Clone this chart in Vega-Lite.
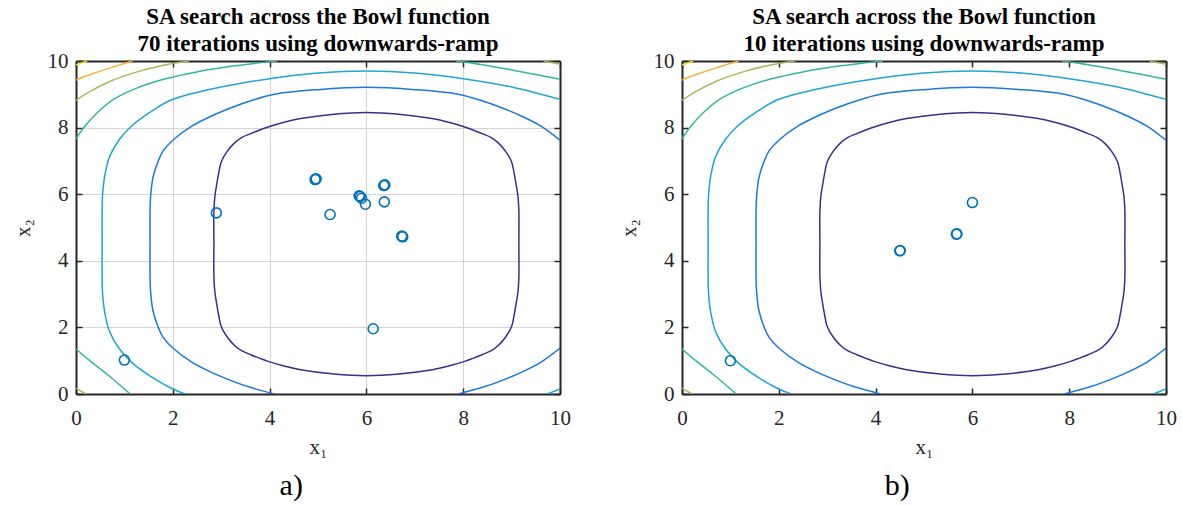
{
  "$schema": "https://vega.github.io/schema/vega-lite/v6.json",
  "background": "white",
  "padding": {"left": 12, "top": 6, "right": 5, "bottom": 0},
  "spacing": 47,
  "config": {
    "font": "Liberation Serif",
    "view": {"stroke": null},
    "title": {"font": "Liberation Serif", "color": "#000000"},
    "axis": {
      "labelFont": "Liberation Serif", "titleFont": "Liberation Serif",
      "labelColor": "#262626", "titleColor": "#262626",
      "domainColor": "#262626", "tickColor": "#262626",
      "domainWidth": 2, "tickWidth": 1.5, "tickSize": -6,
      "labelFontSize": 21, "titleFontSize": 21, "titleFontWeight": "normal",
      "gridColor": "#d4d4d4", "gridWidth": 1, "gridOpacity": 1,
      "labelFlush": false, "labelOverlap": false
    }
  },
  "datasets": {
    "contours": [
      {"seg":"L1","lvl":"c1","ord":0,"x1":2.85,"x2":4.5},
      {"seg":"L1","lvl":"c1","ord":1,"x1":2.85,"x2":5.5},
      {"seg":"L1","lvl":"c1","ord":2,"x1":2.87,"x2":5.95},
      {"seg":"L1","lvl":"c1","ord":3,"x1":2.91,"x2":6.32},
      {"seg":"L1","lvl":"c1","ord":4,"x1":2.95,"x2":6.65},
      {"seg":"L1","lvl":"c1","ord":5,"x1":3.0,"x2":6.97},
      {"seg":"L1","lvl":"c1","ord":6,"x1":3.12,"x2":7.28},
      {"seg":"L1","lvl":"c1","ord":7,"x1":3.26,"x2":7.52},
      {"seg":"L1","lvl":"c1","ord":8,"x1":3.42,"x2":7.7},
      {"seg":"L1","lvl":"c1","ord":9,"x1":3.61,"x2":7.82},
      {"seg":"L1","lvl":"c1","ord":10,"x1":3.8,"x2":7.93},
      {"seg":"L1","lvl":"c1","ord":11,"x1":3.97,"x2":8.02},
      {"seg":"L1","lvl":"c1","ord":12,"x1":4.3,"x2":8.16},
      {"seg":"L1","lvl":"c1","ord":13,"x1":4.64,"x2":8.27},
      {"seg":"L1","lvl":"c1","ord":14,"x1":5.33,"x2":8.4},
      {"seg":"L1","lvl":"c1","ord":15,"x1":6.0,"x2":8.45},
      {"seg":"L1","lvl":"c1","ord":16,"x1":6.67,"x2":8.4},
      {"seg":"L1","lvl":"c1","ord":17,"x1":7.36,"x2":8.27},
      {"seg":"L1","lvl":"c1","ord":18,"x1":7.7,"x2":8.16},
      {"seg":"L1","lvl":"c1","ord":19,"x1":8.03,"x2":8.02},
      {"seg":"L1","lvl":"c1","ord":20,"x1":8.2,"x2":7.93},
      {"seg":"L1","lvl":"c1","ord":21,"x1":8.39,"x2":7.82},
      {"seg":"L1","lvl":"c1","ord":22,"x1":8.58,"x2":7.7},
      {"seg":"L1","lvl":"c1","ord":23,"x1":8.74,"x2":7.52},
      {"seg":"L1","lvl":"c1","ord":24,"x1":8.88,"x2":7.28},
      {"seg":"L1","lvl":"c1","ord":25,"x1":9.0,"x2":6.97},
      {"seg":"L1","lvl":"c1","ord":26,"x1":9.05,"x2":6.65},
      {"seg":"L1","lvl":"c1","ord":27,"x1":9.09,"x2":6.32},
      {"seg":"L1","lvl":"c1","ord":28,"x1":9.13,"x2":5.95},
      {"seg":"L1","lvl":"c1","ord":29,"x1":9.15,"x2":5.5},
      {"seg":"L1","lvl":"c1","ord":30,"x1":9.15,"x2":4.5},
      {"seg":"L1","lvl":"c1","ord":31,"x1":9.15,"x2":3.5},
      {"seg":"L1","lvl":"c1","ord":32,"x1":9.13,"x2":3.05},
      {"seg":"L1","lvl":"c1","ord":33,"x1":9.09,"x2":2.68},
      {"seg":"L1","lvl":"c1","ord":34,"x1":9.05,"x2":2.35},
      {"seg":"L1","lvl":"c1","ord":35,"x1":9.0,"x2":2.03},
      {"seg":"L1","lvl":"c1","ord":36,"x1":8.88,"x2":1.72},
      {"seg":"L1","lvl":"c1","ord":37,"x1":8.74,"x2":1.48},
      {"seg":"L1","lvl":"c1","ord":38,"x1":8.58,"x2":1.3},
      {"seg":"L1","lvl":"c1","ord":39,"x1":8.39,"x2":1.18},
      {"seg":"L1","lvl":"c1","ord":40,"x1":8.2,"x2":1.07},
      {"seg":"L1","lvl":"c1","ord":41,"x1":8.03,"x2":0.98},
      {"seg":"L1","lvl":"c1","ord":42,"x1":7.7,"x2":0.84},
      {"seg":"L1","lvl":"c1","ord":43,"x1":7.36,"x2":0.73},
      {"seg":"L1","lvl":"c1","ord":44,"x1":6.67,"x2":0.6},
      {"seg":"L1","lvl":"c1","ord":45,"x1":6.0,"x2":0.55},
      {"seg":"L1","lvl":"c1","ord":46,"x1":5.33,"x2":0.6},
      {"seg":"L1","lvl":"c1","ord":47,"x1":4.64,"x2":0.73},
      {"seg":"L1","lvl":"c1","ord":48,"x1":4.3,"x2":0.84},
      {"seg":"L1","lvl":"c1","ord":49,"x1":3.97,"x2":0.98},
      {"seg":"L1","lvl":"c1","ord":50,"x1":3.8,"x2":1.07},
      {"seg":"L1","lvl":"c1","ord":51,"x1":3.61,"x2":1.18},
      {"seg":"L1","lvl":"c1","ord":52,"x1":3.42,"x2":1.3},
      {"seg":"L1","lvl":"c1","ord":53,"x1":3.26,"x2":1.48},
      {"seg":"L1","lvl":"c1","ord":54,"x1":3.12,"x2":1.72},
      {"seg":"L1","lvl":"c1","ord":55,"x1":3.0,"x2":2.03},
      {"seg":"L1","lvl":"c1","ord":56,"x1":2.95,"x2":2.35},
      {"seg":"L1","lvl":"c1","ord":57,"x1":2.91,"x2":2.68},
      {"seg":"L1","lvl":"c1","ord":58,"x1":2.87,"x2":3.05},
      {"seg":"L1","lvl":"c1","ord":59,"x1":2.85,"x2":3.5},
      {"seg":"L1","lvl":"c1","ord":60,"x1":2.85,"x2":4.5},

      {"seg":"L2a","lvl":"c2","ord":0,"x1":4.1,"x2":0.0},
      {"seg":"L2a","lvl":"c2","ord":1,"x1":3.6,"x2":0.2},
      {"seg":"L2a","lvl":"c2","ord":2,"x1":3.3,"x2":0.35},
      {"seg":"L2a","lvl":"c2","ord":3,"x1":2.8,"x2":0.65},
      {"seg":"L2a","lvl":"c2","ord":4,"x1":2.4,"x2":0.95},
      {"seg":"L2a","lvl":"c2","ord":5,"x1":2.0,"x2":1.38},
      {"seg":"L2a","lvl":"c2","ord":6,"x1":1.8,"x2":1.7},
      {"seg":"L2a","lvl":"c2","ord":7,"x1":1.7,"x2":2.0},
      {"seg":"L2a","lvl":"c2","ord":8,"x1":1.59,"x2":2.5},
      {"seg":"L2a","lvl":"c2","ord":9,"x1":1.54,"x2":3.1},
      {"seg":"L2a","lvl":"c2","ord":10,"x1":1.53,"x2":3.5},
      {"seg":"L2a","lvl":"c2","ord":11,"x1":1.53,"x2":4.5},
      {"seg":"L2a","lvl":"c2","ord":12,"x1":1.53,"x2":5.5},
      {"seg":"L2a","lvl":"c2","ord":13,"x1":1.54,"x2":5.9},
      {"seg":"L2a","lvl":"c2","ord":14,"x1":1.59,"x2":6.5},
      {"seg":"L2a","lvl":"c2","ord":15,"x1":1.7,"x2":7.0},
      {"seg":"L2a","lvl":"c2","ord":16,"x1":1.8,"x2":7.3},
      {"seg":"L2a","lvl":"c2","ord":17,"x1":2.0,"x2":7.62},
      {"seg":"L2a","lvl":"c2","ord":18,"x1":2.4,"x2":8.05},
      {"seg":"L2a","lvl":"c2","ord":19,"x1":2.8,"x2":8.35},
      {"seg":"L2a","lvl":"c2","ord":20,"x1":3.3,"x2":8.65},
      {"seg":"L2a","lvl":"c2","ord":21,"x1":3.6,"x2":8.8},
      {"seg":"L2a","lvl":"c2","ord":22,"x1":4.1,"x2":9.0},
      {"seg":"L2a","lvl":"c2","ord":23,"x1":5.0,"x2":9.14},
      {"seg":"L2a","lvl":"c2","ord":24,"x1":6.0,"x2":9.21},
      {"seg":"L2a","lvl":"c2","ord":25,"x1":7.0,"x2":9.14},
      {"seg":"L2a","lvl":"c2","ord":26,"x1":7.9,"x2":9.0},
      {"seg":"L2a","lvl":"c2","ord":27,"x1":8.4,"x2":8.8},
      {"seg":"L2a","lvl":"c2","ord":28,"x1":8.7,"x2":8.65},
      {"seg":"L2a","lvl":"c2","ord":29,"x1":9.2,"x2":8.35},
      {"seg":"L2a","lvl":"c2","ord":30,"x1":9.6,"x2":8.05},
      {"seg":"L2a","lvl":"c2","ord":31,"x1":10.0,"x2":7.62},
      {"seg":"L2b","lvl":"c2","ord":0,"x1":7.9,"x2":0.0},
      {"seg":"L2b","lvl":"c2","ord":1,"x1":8.4,"x2":0.2},
      {"seg":"L2b","lvl":"c2","ord":2,"x1":8.7,"x2":0.35},
      {"seg":"L2b","lvl":"c2","ord":3,"x1":9.2,"x2":0.65},
      {"seg":"L2b","lvl":"c2","ord":4,"x1":9.6,"x2":0.95},
      {"seg":"L2b","lvl":"c2","ord":5,"x1":10.0,"x2":1.38},

      {"seg":"L3a","lvl":"c3","ord":0,"x1":2.26,"x2":0.0},
      {"seg":"L3a","lvl":"c3","ord":1,"x1":2.0,"x2":0.15},
      {"seg":"L3a","lvl":"c3","ord":2,"x1":1.55,"x2":0.52},
      {"seg":"L3a","lvl":"c3","ord":3,"x1":1.15,"x2":0.95},
      {"seg":"L3a","lvl":"c3","ord":4,"x1":0.9,"x2":1.35},
      {"seg":"L3a","lvl":"c3","ord":5,"x1":0.7,"x2":1.85},
      {"seg":"L3a","lvl":"c3","ord":6,"x1":0.6,"x2":2.4},
      {"seg":"L3a","lvl":"c3","ord":7,"x1":0.55,"x2":3.0},
      {"seg":"L3a","lvl":"c3","ord":8,"x1":0.54,"x2":3.5},
      {"seg":"L3a","lvl":"c3","ord":9,"x1":0.54,"x2":4.5},
      {"seg":"L3a","lvl":"c3","ord":10,"x1":0.54,"x2":5.5},
      {"seg":"L3a","lvl":"c3","ord":11,"x1":0.55,"x2":6.0},
      {"seg":"L3a","lvl":"c3","ord":12,"x1":0.6,"x2":6.6},
      {"seg":"L3a","lvl":"c3","ord":13,"x1":0.7,"x2":7.15},
      {"seg":"L3a","lvl":"c3","ord":14,"x1":0.9,"x2":7.65},
      {"seg":"L3a","lvl":"c3","ord":15,"x1":1.15,"x2":8.05},
      {"seg":"L3a","lvl":"c3","ord":16,"x1":1.55,"x2":8.48},
      {"seg":"L3a","lvl":"c3","ord":17,"x1":2.0,"x2":8.85},
      {"seg":"L3a","lvl":"c3","ord":18,"x1":3.0,"x2":9.22},
      {"seg":"L3a","lvl":"c3","ord":19,"x1":4.0,"x2":9.47},
      {"seg":"L3a","lvl":"c3","ord":20,"x1":5.0,"x2":9.64},
      {"seg":"L3a","lvl":"c3","ord":21,"x1":6.0,"x2":9.7},
      {"seg":"L3a","lvl":"c3","ord":22,"x1":7.0,"x2":9.64},
      {"seg":"L3a","lvl":"c3","ord":23,"x1":8.0,"x2":9.47},
      {"seg":"L3a","lvl":"c3","ord":24,"x1":9.0,"x2":9.22},
      {"seg":"L3a","lvl":"c3","ord":25,"x1":10.0,"x2":8.85},
      {"seg":"L3b","lvl":"c3","ord":0,"x1":9.74,"x2":0.0},
      {"seg":"L3b","lvl":"c3","ord":1,"x1":10.0,"x2":0.15},

      {"seg":"L4a","lvl":"c4","ord":0,"x1":0.0,"x2":7.66},
      {"seg":"L4a","lvl":"c4","ord":1,"x1":0.17,"x2":8.02},
      {"seg":"L4a","lvl":"c4","ord":2,"x1":0.45,"x2":8.46},
      {"seg":"L4a","lvl":"c4","ord":3,"x1":0.79,"x2":8.86},
      {"seg":"L4a","lvl":"c4","ord":4,"x1":1.28,"x2":9.2},
      {"seg":"L4a","lvl":"c4","ord":5,"x1":1.83,"x2":9.46},
      {"seg":"L4a","lvl":"c4","ord":6,"x1":2.52,"x2":9.68},
      {"seg":"L4a","lvl":"c4","ord":7,"x1":3.2,"x2":9.84},
      {"seg":"L4a","lvl":"c4","ord":8,"x1":3.7,"x2":9.93},
      {"seg":"L4a","lvl":"c4","ord":9,"x1":4.15,"x2":10.0},
      {"seg":"L4b","lvl":"c4","ord":0,"x1":7.85,"x2":10.0},
      {"seg":"L4b","lvl":"c4","ord":1,"x1":8.39,"x2":9.89},
      {"seg":"L4b","lvl":"c4","ord":2,"x1":9.08,"x2":9.71},
      {"seg":"L4b","lvl":"c4","ord":3,"x1":10.0,"x2":9.45},
      {"seg":"L4c","lvl":"c4","ord":0,"x1":0.0,"x2":1.35},
      {"seg":"L4c","lvl":"c4","ord":1,"x1":0.31,"x2":0.97},
      {"seg":"L4c","lvl":"c4","ord":2,"x1":0.66,"x2":0.57},
      {"seg":"L4c","lvl":"c4","ord":3,"x1":1.12,"x2":0.0},

      {"seg":"L5a","lvl":"c5","ord":0,"x1":0.0,"x2":8.82},
      {"seg":"L5a","lvl":"c5","ord":1,"x1":0.31,"x2":9.1},
      {"seg":"L5a","lvl":"c5","ord":2,"x1":0.72,"x2":9.4},
      {"seg":"L5a","lvl":"c5","ord":3,"x1":1.28,"x2":9.68},
      {"seg":"L5a","lvl":"c5","ord":4,"x1":1.76,"x2":9.86},
      {"seg":"L5a","lvl":"c5","ord":5,"x1":2.34,"x2":10.0},
      {"seg":"L5b","lvl":"c5","ord":0,"x1":9.66,"x2":10.0},
      {"seg":"L5b","lvl":"c5","ord":1,"x1":10.0,"x2":9.9},
      {"seg":"L5c","lvl":"c5","ord":0,"x1":0.0,"x2":0.17},
      {"seg":"L5c","lvl":"c5","ord":1,"x1":0.21,"x2":0.0},

      {"seg":"L6","lvl":"c6","ord":0,"x1":0.0,"x2":9.43},
      {"seg":"L6","lvl":"c6","ord":1,"x1":0.31,"x2":9.6},
      {"seg":"L6","lvl":"c6","ord":2,"x1":0.72,"x2":9.8},
      {"seg":"L6","lvl":"c6","ord":3,"x1":1.17,"x2":10.0},

      {"seg":"L7","lvl":"c7","ord":0,"x1":0.0,"x2":9.88},
      {"seg":"L7","lvl":"c7","ord":1,"x1":0.23,"x2":10.0}
    ],
    "ptsA": [
      {"x1":4.95,"x2":6.45},{"x1":4.96,"x2":6.46},{"x1":4.94,"x2":6.44},
      {"x1":6.37,"x2":6.27},{"x1":6.38,"x2":6.28},{"x1":6.36,"x2":6.26},
      {"x1":5.85,"x2":5.95},{"x1":5.87,"x2":5.93},{"x1":5.9,"x2":5.88},
      {"x1":5.98,"x2":5.7},
      {"x1":6.37,"x2":5.77},
      {"x1":5.25,"x2":5.39},
      {"x1":2.9,"x2":5.44},
      {"x1":6.74,"x2":4.73},{"x1":6.75,"x2":4.72},{"x1":6.73,"x2":4.74},
      {"x1":6.14,"x2":1.96},
      {"x1":1.0,"x2":1.02}
    ],
    "ptsB": [
      {"x1":6.0,"x2":5.75},
      {"x1":5.67,"x2":4.8},{"x1":5.68,"x2":4.81},
      {"x1":4.5,"x2":4.3},{"x1":4.51,"x2":4.31},
      {"x1":1.0,"x2":1.0}
    ]
  },
  "hconcat": [
    {
      "title": {"text": "a)", "orient": "bottom", "fontSize": 30, "fontWeight": "normal", "anchor": "middle", "frame": "bounds", "offset": 14},
      "vconcat": [
        {
          "title": {"text": ["SA search across the Bowl function", "70 iterations using downwards-ramp"], "fontSize": 23, "fontWeight": "bold", "lineHeight": 27, "offset": -6, "anchor": "middle", "frame": "group"},
          "width": 484,
          "height": 333,
          "layer": [
            {
              "data": {"name": "contours"},
              "mark": {"type": "line", "strokeWidth": 1.5, "interpolate": "catmull-rom", "clip": true},
              "encoding": {
                "x": {"field": "x1", "type": "quantitative", "scale": {"domain": [0, 10], "nice": false, "zero": false},
                      "axis": {"orient": "bottom", "values": [0, 2, 4, 6, 8, 10], "grid": true, "title": "x₁", "labelPadding": 19, "titlePadding": 8}},
                "y": {"field": "x2", "type": "quantitative", "scale": {"domain": [0, 10], "nice": false, "zero": false},
                      "axis": {"orient": "left", "values": [0, 2, 4, 6, 8, 10], "grid": true, "title": "x₂", "labelPadding": 14, "titlePadding": 14}},
                "detail": {"field": "seg"},
                "order": {"field": "ord", "type": "quantitative"},
                "color": {"field": "lvl", "type": "nominal", "legend": null,
                          "scale": {"domain": ["c1","c2","c3","c4","c5","c6","c7"], "range": ["#3b2e8d","#1a78e2","#1ca5d8","#31b79e","#a3bd5e","#f9b13c","#f2df1b"]}}
              }
            },
            {
              "data": {"name": "ptsA"},
              "mark": {"type": "point", "shape": "circle", "size": 100, "filled": false, "stroke": "#0072bd", "strokeWidth": 1.6, "opacity": 1},
              "encoding": {
                "x": {"field": "x1", "type": "quantitative", "axis": {"orient": "top", "values": [0, 2, 4, 6, 8, 10], "labels": false, "title": null, "grid": false}},
                "y": {"field": "x2", "type": "quantitative", "axis": {"orient": "right", "values": [0, 2, 4, 6, 8, 10], "labels": false, "title": null, "grid": false}}
              }
            }
          ],
          "resolve": {"axis": {"x": "independent", "y": "independent"}}
        }
      ]
    },
    {
      "title": {"text": "b)", "orient": "bottom", "fontSize": 30, "fontWeight": "normal", "anchor": "middle", "frame": "bounds", "offset": 14},
      "vconcat": [
        {
          "title": {"text": ["SA search across the Bowl function", "10 iterations using downwards-ramp"], "fontSize": 23, "fontWeight": "bold", "lineHeight": 27, "offset": -6, "anchor": "middle", "frame": "group"},
          "width": 484,
          "height": 333,
          "layer": [
            {
              "data": {"name": "contours"},
              "mark": {"type": "line", "strokeWidth": 1.5, "interpolate": "catmull-rom", "clip": true},
              "encoding": {
                "x": {"field": "x1", "type": "quantitative", "scale": {"domain": [0, 10], "nice": false, "zero": false},
                      "axis": {"orient": "bottom", "values": [0, 2, 4, 6, 8, 10], "grid": false, "title": "x₁", "labelPadding": 19, "titlePadding": 8}},
                "y": {"field": "x2", "type": "quantitative", "scale": {"domain": [0, 10], "nice": false, "zero": false},
                      "axis": {"orient": "left", "values": [0, 2, 4, 6, 8, 10], "grid": false, "title": "x₂", "labelPadding": 14, "titlePadding": 14}},
                "detail": {"field": "seg"},
                "order": {"field": "ord", "type": "quantitative"},
                "color": {"field": "lvl", "type": "nominal", "legend": null,
                          "scale": {"domain": ["c1","c2","c3","c4","c5","c6","c7"], "range": ["#3b2e8d","#1a78e2","#1ca5d8","#31b79e","#a3bd5e","#f9b13c","#f2df1b"]}}
              }
            },
            {
              "data": {"name": "ptsB"},
              "mark": {"type": "point", "shape": "circle", "size": 100, "filled": false, "stroke": "#0072bd", "strokeWidth": 1.6, "opacity": 1},
              "encoding": {
                "x": {"field": "x1", "type": "quantitative", "axis": {"orient": "top", "values": [0, 2, 4, 6, 8, 10], "labels": false, "title": null, "grid": false}},
                "y": {"field": "x2", "type": "quantitative", "axis": {"orient": "right", "values": [0, 2, 4, 6, 8, 10], "labels": false, "title": null, "grid": false}}
              }
            }
          ],
          "resolve": {"axis": {"x": "independent", "y": "independent"}}
        }
      ]
    }
  ]
}
